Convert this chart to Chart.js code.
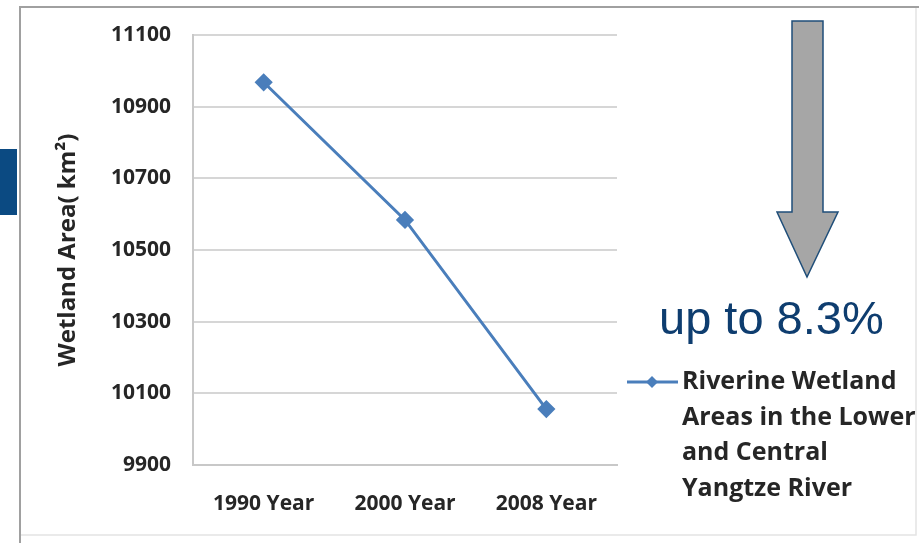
<!DOCTYPE html>
<html>
<head>
<meta charset="utf-8">
<script src="https://cdn.jsdelivr.net/npm/chart.js@4"></script>
<style>
  html, body { margin: 0; padding: 0; background: #ffffff; }
  #wrap { position: relative; width: 919px; height: 543px; }
</style>
</head>
<body>
<div id="wrap"><canvas id="c" width="919" height="543"></canvas></div>
<script>
// Riverine wetland area (km²) in the Lower and Central Yangtze River
const years = ['1990 Year', '2000 Year', '2008 Year'];
const wetlandArea = [10968, 10584, 10056];
const seriesName = ['Riverine Wetland', 'Areas in the Lower', 'and Central', 'Yangtze River'];
const yMin = 9900, yMax = 11100, yStep = 200;

const lineBlue = '#4a7ebb';
const labelFont = 'Open Sans';

// decline between first and last survey, in percent
const declinePct = ((wetlandArea[0] - wetlandArea[wetlandArea.length - 1]) / wetlandArea[0] * 100).toFixed(1);

const decor = {
  id: 'decor',
  beforeDraw(chart) {
    const ctx = chart.ctx;
    ctx.save();
    // slide frame
    ctx.strokeStyle = '#a0a0a0';
    ctx.lineWidth = 2;
    ctx.beginPath();
    ctx.moveTo(20, 543); ctx.lineTo(20, 7); ctx.lineTo(919, 7);
    ctx.stroke();
    ctx.strokeStyle = '#e4e4e4';
    ctx.lineWidth = 1.5;
    ctx.beginPath();
    ctx.moveTo(21, 535); ctx.lineTo(916, 535); ctx.lineTo(916, 8);
    ctx.stroke();
    // blue tab at the left edge
    ctx.fillStyle = '#0b4a82';
    ctx.fillRect(0, 149, 17, 66);
    ctx.restore();
  },
  afterDraw(chart) {
    const ctx = chart.ctx;
    const ds = chart.data.datasets[0];
    ctx.save();
    // legend entry
    const ly = 382;
    ctx.strokeStyle = ds.borderColor;
    ctx.lineWidth = 3;
    ctx.beginPath();
    ctx.moveTo(627, ly); ctx.lineTo(678, ly);
    ctx.stroke();
    ctx.fillStyle = ds.backgroundColor;
    ctx.beginPath();
    ctx.moveTo(652, ly - 6); ctx.lineTo(658, ly); ctx.lineTo(652, ly + 6); ctx.lineTo(646, ly);
    ctx.closePath();
    ctx.fill();
    ctx.fillStyle = '#262626';
    ctx.font = 'bold 25px "' + labelFont + '"';
    ctx.textBaseline = 'middle';
    ctx.textAlign = 'left';
    const lineGap = 35.5;
    seriesName.forEach((t, i) => ctx.fillText(t, 682, ly + i * lineGap));

    // downward arrow
    ctx.beginPath();
    ctx.moveTo(792, 21); ctx.lineTo(823, 21); ctx.lineTo(823, 212); ctx.lineTo(838, 212);
    ctx.lineTo(807, 277); ctx.lineTo(777, 212); ctx.lineTo(792, 212);
    ctx.closePath();
    ctx.fillStyle = '#a6a6a6';
    ctx.fill();
    ctx.strokeStyle = '#1f4e79';
    ctx.lineWidth = 1.5;
    ctx.stroke();

    // decline label
    ctx.fillStyle = '#0e3d6f';
    ctx.font = '47px "Liberation Sans"';
    ctx.textBaseline = 'alphabetic';
    ctx.fillText('up to ' + declinePct + '%', 659, 334);
    ctx.restore();
  }
};

new Chart(document.getElementById('c'), {
  type: 'line',
  data: {
    labels: years,
    datasets: [{
      label: seriesName.join(' '),
      data: wetlandArea,
      borderColor: lineBlue,
      backgroundColor: lineBlue,
      borderWidth: 3,
      pointStyle: 'rectRot',
      pointRadius: 7,
      pointHoverRadius: 7,
      tension: 0
    }]
  },
  options: {
    responsive: false,
    animation: false,
    events: [],
    layout: { padding: { left: 45, top: 35, right: 302, bottom: 0 } },
    plugins: { legend: { display: false }, tooltip: { enabled: false } },
    scales: {
      x: {
        offset: true,
        grid: { display: false, drawTicks: false },
        border: { display: true, color: '#c8c8c8', width: 2 },
        ticks: {
          color: '#262626',
          padding: 26,
          font: { family: labelFont, weight: 'bold', size: 21 }
        },
        afterFit(scale) { scale.height = 78; }
      },
      y: {
        min: yMin,
        max: yMax,
        grid: { color: '#d6d6d6', lineWidth: 2, drawTicks: false },
        border: { display: true, color: '#c8c8c8', width: 2 },
        ticks: {
          stepSize: yStep,
          color: '#262626',
          padding: 22,
          font: { family: labelFont, weight: 'bold', size: 21 },
          callback: (v) => String(v)
        },
        title: {
          display: true,
          text: 'Wetland Area( km²)',
          color: '#262626',
          padding: { top: 9, bottom: 0 },
          font: { family: labelFont, weight: 'bold', size: 24 }
        },
        afterFit(scale) { scale.width = 148; }
      }
    }
  },
  plugins: [decor]
});
</script>
</body>
</html>
